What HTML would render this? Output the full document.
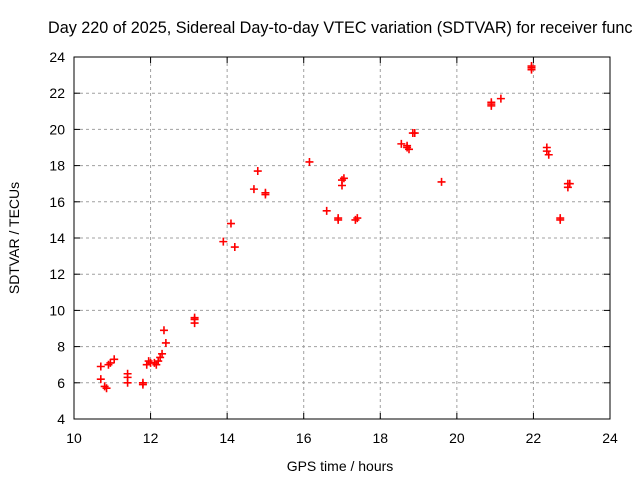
<!DOCTYPE html>
<html><head><meta charset="utf-8"><style>
html,body{margin:0;padding:0;background:#fff;overflow:hidden}
svg{display:block;font-family:"Liberation Sans",sans-serif}
</style></head><body>
<svg id="chart" width="640" height="480">
<text x="48" y="33" font-size="16.2" fill="#000">Day 220 of 2025, Sidereal Day-to-day VTEC variation (SDTVAR) for receiver func</text>
<g id="grid"></g><g id="axes"></g><g id="pts"></g>
<text x="340" y="471" font-size="14" text-anchor="middle">GPS time / hours</text>
<text transform="translate(19,238) rotate(-90)" font-size="14" text-anchor="middle">SDTVAR / TECUs</text>
</svg>
<script>
const xTicks=[10,12,14,16,18,20,22,24];
const yTicks=[4,6,8,10,12,14,16,18,20,22,24];
const hours=[10.7,10.7,10.8,10.85,10.9,10.95,11.05,11.4,11.4,11.4,11.8,11.8,11.9,11.95,12.0,12.1,12.15,12.2,12.25,12.3,12.35,12.4,13.15,13.15,13.15,
13.9,14.1,14.2,14.7,14.8,15.0,15.0,16.15,16.6,16.9,16.9,17.0,17.05,17.0,17.35,17.4,
18.55,18.7,18.75,18.7,18.85,18.9,19.6,20.9,20.9,20.9,21.15,21.95,21.95,21.95,22.35,22.35,22.4,22.7,22.7,22.9,22.9,22.95];
const sdtvar=[6.9,6.2,5.8,5.7,7.0,7.1,7.3,6.5,6.3,6.0,5.9,6.0,7.0,7.2,7.1,7.1,7.0,7.2,7.4,7.6,8.9,8.2,9.3,9.5,9.6,
13.8,14.8,13.5,16.7,17.7,16.5,16.4,18.2,15.5,15.1,15.0,17.2,17.3,16.9,15.0,15.1,
19.2,19.0,18.9,19.1,19.8,19.8,17.1,21.4,21.3,21.5,21.7,23.4,23.5,23.3,19.0,18.8,18.6,15.1,15.0,17.0,16.8,17.0];
const L=74,R=610,T=57,B=419;
const sx=v=>L+(v-10)/14*(R-L), sy=v=>B-(v-4)/20*(B-T);
const NS="http://www.w3.org/2000/svg";
function mk(tag,attrs,parent){const e=document.createElementNS(NS,tag);for(const k in attrs)e.setAttribute(k,attrs[k]);parent.appendChild(e);return e;}
const g=document.getElementById('grid'),a=document.getElementById('axes'),p=document.getElementById('pts');
xTicks.forEach(t=>{const x=sx(t);
 if(t>10&&t<24){const l=mk('line',{x1:x,x2:x,y1:T,y2:B,stroke:'#a0a0a0','stroke-dasharray':'3,3'},g);
 
 }
 mk('line',{x1:x,x2:x,y1:B,y2:B-6,stroke:'#000'},a);mk('line',{x1:x,x2:x,y1:T,y2:T+6,stroke:'#000'},a);
 const tx=mk('text',{x:x,y:B+24,'font-size':14,'text-anchor':'middle'},a);tx.textContent=t;
 
 });
yTicks.forEach(t=>{const y=sy(t);
 if(t>4&&t<24){const l=mk('line',{x1:L,x2:R,y1:y,y2:y,stroke:'#a0a0a0','stroke-dasharray':'3,3'},g);
 
 }
 mk('line',{x1:L,x2:L+6,y1:y,y2:y,stroke:'#000'},a);mk('line',{x1:R,x2:R-6,y1:y,y2:y,stroke:'#000'},a);
 const tx=mk('text',{x:L-9,y:y+5,'font-size':14,'text-anchor':'end'},a);tx.textContent=t;
 
 });
const fr=mk('rect',{x:L,y:T,width:R-L,height:B-T,fill:'none',stroke:'#000'},a);


hours.forEach((h,i)=>{const x=sx(h),y=sy(sdtvar[i]);
 const pt=mk('path',{d:`M${x-4},${y}H${x+4}M${x},${y-4}V${y+4}`,stroke:'#f00','stroke-width':1.6},p);
 
 });
</script>
</body></html>
